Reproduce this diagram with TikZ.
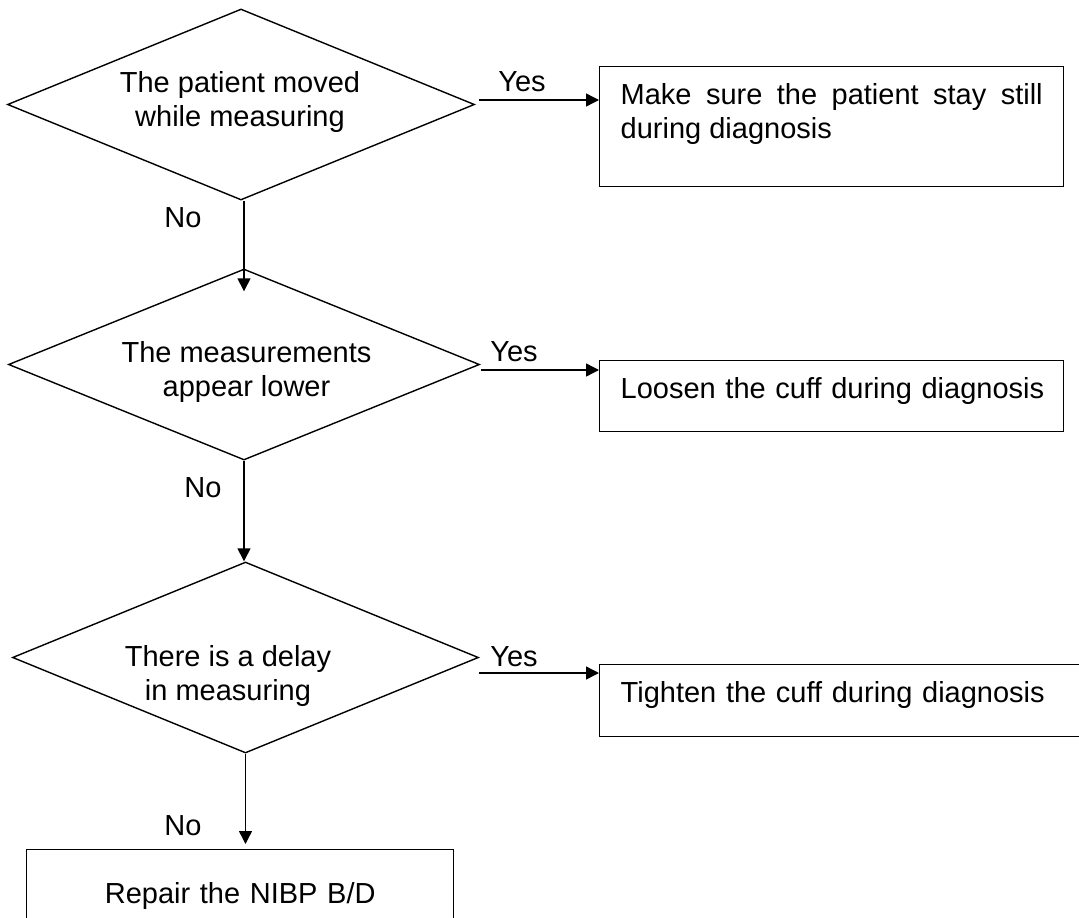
\documentclass[tikz,border=0pt]{standalone}
\usepackage{fontspec}
\setmainfont{Liberation Sans}
\usepackage{tikz}
\usetikzlibrary{shapes.geometric, arrows.meta, positioning}
\definecolor{myink}{RGB}{0,0,0}
\newcommand{\chartfont}{\fontsize{29pt}{33.7pt}\selectfont}
\tikzset{
  decision/.style={diamond, draw=myink, line width=1.4pt, aspect=2.45,
    minimum width=467pt, minimum height=191pt, inner sep=0pt},
  qtext/.style={align=center, inner sep=0pt, font=\chartfont, color=myink},
  action/.style={rectangle, draw=myink, line width=1.4pt, anchor=north west,
    inner xsep=21pt, inner ysep=16pt, text height=22pt, font=\chartfont},
  answer/.style={inner sep=0pt, font=\chartfont, color=myink},
  arrow/.style={-{Triangle[length=13pt, width=13pt]}, line width=1.4pt, color=myink}
}

\begin{document}
\begin{tikzpicture}[x=1pt, y=-1pt]
  \useasboundingbox (0,0) rectangle (1079,918);
  \clip (0,0) rectangle (1079,918);

  % ── Questions ─────────────────────────────────────────────────────
  \node[decision] (d1) at (241,104.5) {};
  \node[decision, minimum width=471pt] (d2) at (244,364.5) {};
  \node[decision, minimum width=466pt] (d3) at (245.5,657.5) {};
  \node[qtext] (q1) at (240,102) {The patient moved\\while measuring};
  \node[qtext] (q2) at (246.5,372) {The measurements\\appear lower};
  \node[qtext] (q3) at (228,676) {There is a delay\\in measuring};

  % ── Actions ───────────────────────────────────────────────────────
  \node[action, text width=422pt, align=justify, text depth=66pt] (b1) at (599,66)
    {Make sure the patient stay still during diagnosis};
  \node[action, text width=422pt, align=left, text depth=17pt] (b2) at (599,360)
    {\mbox{Loosen the cuff during diagnosis}};
  \node[action, text width=480pt, align=left, text depth=18pt] (b3) at (599,664)
    {Tighten the cuff during diagnosis};
  \node[action, text width=385pt, align=center, text height=38pt, text depth=40pt] (b4) at (26,849)
    {Repair the NIBP B/D};

  % ── Yes branches ──────────────────────────────────────────────────
  \coordinate (y1) at ([shift={(4pt,4.5pt)}]d1.east);
  \draw[arrow] (y1) -- (y1 -| b1.west);
  \coordinate (y2) at ([shift={(1pt,-5.5pt)}]d2.east);
  \draw[arrow] (y2) -- (y2 -| b2.west);
  \coordinate (y3) at ([yshift=-15.5pt]d3.east);
  \draw[arrow] (y3) -- (y3 -| b3.west);
  \node[answer] (yes1) at (522,82) {Yes};
  \node[answer] (yes2) at (514,352) {Yes};
  \node[answer] (yes3) at (514,657) {Yes};

  % ── No branches ───────────────────────────────────────────────────
  \draw[arrow] (d1.south -| d2.north) -- ([yshift=-23pt]d2.north);
  \draw[arrow] (d2.south) -- (d2.south |- d3.north);
  \draw[arrow, shorten >=5pt] (d3.south) -- (d3.south |- b4.north);
  \node[answer] (no1) at (183,218) {No};
  \node[answer] (no2) at (203,488) {No};
  \node[answer] (no3) at (183,826) {No};
\end{tikzpicture}
\end{document}
